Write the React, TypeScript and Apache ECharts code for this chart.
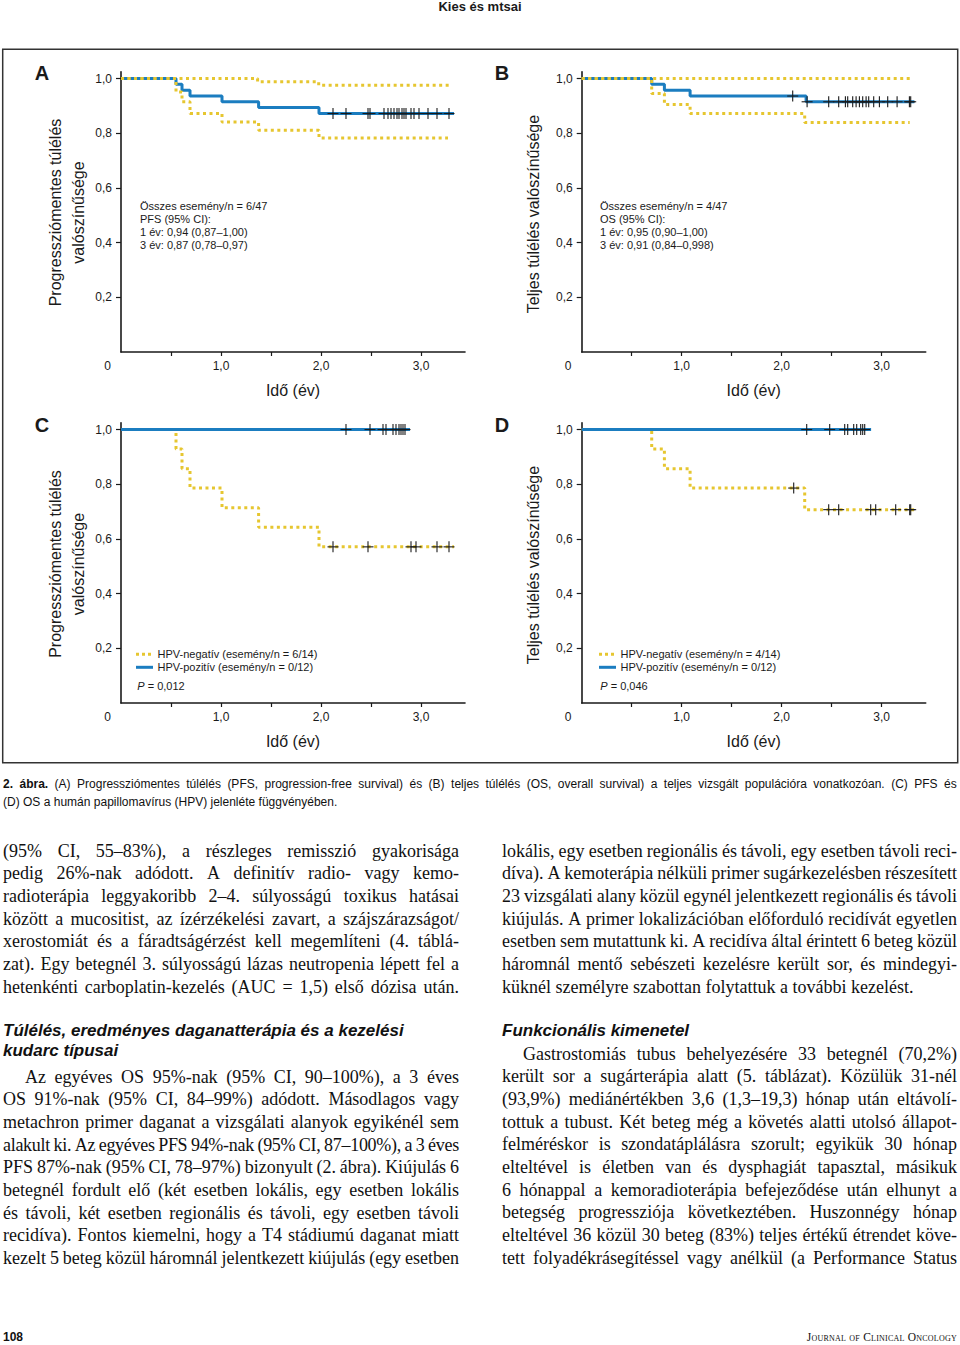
import React, { useEffect, useLayoutEffect, useRef } from 'react';
import * as echarts from 'echarts';

const FONT = "'Liberation Sans', Arial, Helvetica, sans-serif";
const SERIF = "'Liberation Serif', 'Times New Roman', serif";
const BLUE = '#1b7dc0';
const YELLOW = '#e6c630';
const INK = '#1a1a1a';

// ---- axis ticks / labels ----
const yTickValues = [0.2, 0.4, 0.6, 0.8, 1.0];
const xLabelValues = [0, 1, 2, 3];
const xTickValues = [0.5, 1, 1.5, 2, 2.5, 3];

// ---- A: PFS, whole population (time in years, survival probability) ----
const pfsAll = [[0, 1], [0.55, 0.979], [0.61, 0.957], [0.69, 0.936], [1.01, 0.915], [1.376, 0.894], [1.98, 0.872], [3.33, 0.872]];
const pfsAllUpper = [[0, 1], [1.366, 0.988], [1.977, 0.975], [3.3, 0.975]];
const pfsAllLower = [[0, 1], [0.55, 0.951], [0.61, 0.915], [0.69, 0.872], [1.01, 0.841], [1.376, 0.811], [1.98, 0.783], [3.27, 0.783]];
const pfsAllCensored = [2.12, 2.25, 2.47, 2.49, 2.63, 2.67, 2.7, 2.73, 2.76, 2.78, 2.81, 2.83, 2.85, 2.9, 2.93, 2.98, 3.07, 3.16, 3.28];

// ---- B: OS, whole population ----
const osAll = [[0, 1], [0.7, 0.979], [0.827, 0.957], [1.084, 0.936], [2.244, 0.915], [3.327, 0.915]];
const osAllUpper = [[0, 1], [3.28, 1]];
const osAllLower = [[0, 1], [0.7, 0.945], [0.827, 0.905], [1.084, 0.872], [2.23, 0.839], [3.28, 0.839]];
const osAllCensored = [2.11, 2.254, 2.47, 2.57, 2.637, 2.66, 2.71, 2.744, 2.777, 2.81, 2.844, 2.87, 2.92, 2.977, 3.06, 3.154, 3.277, 3.29];

// ---- C: PFS by HPV ----
const pfsHpvPos = [[0, 1], [2.89, 1]];
const pfsHpvPosCensored = [2.25, 2.49, 2.62, 2.65, 2.72, 2.75, 2.78, 2.8, 2.82, 2.84];
const pfsHpvNeg = [[0, 1], [0.55, 0.929], [0.61, 0.857], [0.69, 0.786], [1.01, 0.714], [1.376, 0.643], [1.98, 0.571], [3.33, 0.571]];
const pfsHpvNegCensored = [2.12, 2.47, 2.9, 2.95, 3.16, 3.28];

// ---- D: OS by HPV ----
const osHpvPos = [[0, 1], [2.894, 1]];
const osHpvPosCensored = [2.25, 2.48, 2.63, 2.66, 2.72, 2.75, 2.79, 2.81, 2.83];
const osHpvNeg = [[0, 1], [0.7, 0.929], [0.827, 0.857], [1.084, 0.786], [2.23, 0.707], [3.327, 0.707]];
const osHpvNegCensored = [2.12, 2.47, 2.57, 2.89, 2.94, 3.14, 3.28, 3.29];

// ---- texts ----
const annotA = ['Összes esemény/n = 6/47', 'PFS (95% CI):', '1 év: 0,94 (0,87–1,00)', '3 év: 0,87 (0,78–0,97)'];
const annotB = ['Összes esemény/n = 4/47', 'OS (95% CI):', '1 év: 0,95 (0,90–1,00)', '3 év: 0,91 (0,84–0,998)'];
const legendC = ['HPV-negatív (esemény/n = 6/14)', 'HPV-pozitív (esemény/n = 0/12)', '0,012'];
const legendD = ['HPV-negatív (esemény/n = 4/14)', 'HPV-pozitív (esemény/n = 0/12)', '0,046'];
const titlePFS = 'Progressziómentes túlélés\nvalószínűsége';
const titleOS = 'Teljes túlélés valószínűsége';
const xTitle = 'Idő (év)';

const caption1 = '2. ábra. (A) Progressziómentes túlélés (PFS, progression-free survival) és (B) teljes túlélés (OS, overall survival) a teljes vizsgált populációra vonatkozóan. (C) PFS és';
const caption2 = '(D) OS a humán papillomavírus (HPV) jelenléte függvényében.';

const leftPara1 = [
  '(95% CI, 55–83%), a részleges remisszió gyakorisága',
  'pedig 26%-nak adódott. A definitív radio- vagy kemo-',
  'radioterápia leggyakoribb 2–4. súlyosságú toxikus hatásai',
  'között a mucositist, az ízérzékelési zavart, a szájszárazságot/',
  'xerostomiát és a fáradtságérzést kell megemlíteni (4. táblá-',
  'zat). Egy betegnél 3. súlyosságú lázas neutropenia lépett fel a',
  'hetenkénti carboplatin-kezelés (AUC = 1,5) első dózisa után.',
];
const leftHeading = ['Túlélés, eredményes daganatterápia és a kezelési', 'kudarc típusai'];
const leftPara2 = [
  'Az egyéves OS 95%-nak (95% CI, 90–100%), a 3 éves',
  'OS 91%-nak (95% CI, 84–99%) adódott. Másodlagos vagy',
  'metachron primer daganat a vizsgálati alanyok egyikénél sem',
  'alakult ki. Az egyéves PFS 94%-nak (95% CI, 87–100%), a 3 éves',
  'PFS 87%-nak (95% CI, 78–97%) bizonyult (2. ábra). Kiújulás 6',
  'betegnél fordult elő (két esetben lokális, egy esetben lokális',
  'és távoli, két esetben regionális és távoli, egy esetben távoli',
  'recidíva). Fontos kiemelni, hogy a T4 stádiumú daganat miatt',
  'kezelt 5 beteg közül háromnál jelentkezett kiújulás (egy esetben',
];
const rightPara1 = [
  'lokális, egy esetben regionális és távoli, egy esetben távoli reci-',
  'díva). A kemoterápia nélküli primer sugárkezelésben részesített',
  '23 vizsgálati alany közül egynél jelentkezett regionális és távoli',
  'kiújulás. A primer lokalizációban előforduló recidívát egyetlen',
  'esetben sem mutattunk ki. A recidíva által érintett 6 beteg közül',
  'háromnál mentő sebészeti kezelésre került sor, és mindegyi-',
  'küknél személyre szabottan folytattuk a további kezelést.',
];
const rightHeading = 'Funkcionális kimenetel';
const rightPara2 = [
  'Gastrostomiás tubus behelyezésére 33 betegnél (70,2%)',
  'került sor a sugárterápia alatt (5. táblázat). Közülük 31-nél',
  '(93,9%) mediánértékben 3,6 (1,3–19,3) hónap után eltávolí-',
  'tottuk a tubust. Két beteg még a követés alatti utolsó állapot-',
  'felméréskor is szondatáplálásra szorult; egyikük 30 hónap',
  'elteltével is életben van és dysphagiát tapasztal, másikuk',
  '6 hónappal a kemoradioterápia befejeződése után elhunyt a',
  'betegség progressziója következtében. Huszonnégy hónap',
  'elteltével 36 közül 30 beteg (83%) teljes értékű étrendet köve-',
  'tett folyadékrásegítéssel vagy anélkül (a Performance Status',
];

const fmt = (v: number) => v.toFixed(1).replace('.', ',');

function survAt(curve: number[][], t: number) {
  let s = curve[0][1];
  for (const [x, y] of curve) {
    if (x <= t) s = y;
    else break;
  }
  return s;
}

const GRID_W = 344;
const GRID_H = 280.3;
const grids = [
  { left: 121, top: 71.7 },
  { left: 581.7, top: 71.7 },
  { left: 121, top: 422.7 },
  { left: 581.7, top: 422.7 },
];

function lineSeries(i: number, data: number[][], kind: 'blue' | 'yellow', z: number) {
  return {
    type: 'line',
    xAxisIndex: i,
    yAxisIndex: i,
    data,
    step: 'end',
    symbol: 'none',
    silent: true,
    clip: false,
    z,
    lineStyle:
      kind === 'blue'
        ? { color: BLUE, width: 3 }
        : { color: YELLOW, width: 3, type: [3, 3.5], cap: 'butt' },
  };
}

function censorSeries(i: number, curve: number[][], times: number[]) {
  return {
    type: 'custom',
    xAxisIndex: i,
    yAxisIndex: i,
    silent: true,
    z: 6,
    data: times.map((t) => [t, survAt(curve, t)]),
    renderItem: (_p: any, api: any) => {
      const p = api.coord([api.value(0), api.value(1)]);
      return {
        type: 'group',
        children: [
          { type: 'line', shape: { x1: p[0] - 5.5, y1: p[1], x2: p[0] + 5.5, y2: p[1] }, style: { stroke: INK, lineWidth: 1.1 } },
          { type: 'line', shape: { x1: p[0], y1: p[1] - 5.5, x2: p[0], y2: p[1] + 5.5 }, style: { stroke: INK, lineWidth: 1.1 } },
        ],
      };
    },
  };
}

function txt(text: string, x: number, y: number, size: number, extra: any = {}) {
  return {
    type: 'text',
    x,
    y,
    silent: true,
    style: {
      text,
      fill: INK,
      fontSize: size,
      fontFamily: FONT,
      align: 'left',
      verticalAlign: 'middle',
      ...extra,
    },
  };
}

function buildOption() {
  const xAxis = grids.map((_, i) => ({
    gridIndex: i,
    type: 'value',
    min: 0,
    max: 3.44,
    axisLine: { show: true, onZero: false, lineStyle: { color: INK, width: 1.6 } },
    axisTick: { show: true, customValues: xTickValues, length: 4, lineStyle: { color: INK, width: 1.2 } },
    axisLabel: {
      customValues: xLabelValues,
      formatter: (v: number) => (v === 0 ? '{z|0}' : fmt(v)),
      margin: 8,
      color: INK,
      fontSize: 12,
      fontFamily: FONT,
      rich: { z: { padding: [0, 27, 0, 0], fontSize: 12, fontFamily: FONT, color: INK } },
    },
    splitLine: { show: false },
    name: xTitle,
    nameLocation: 'middle',
    nameGap: 30,
    nameTextStyle: { fontSize: 16, fontFamily: FONT, color: INK },
  }));
  const yAxis = grids.map((_, i) => ({
    gridIndex: i,
    type: 'value',
    min: 0,
    max: 1.025,
    axisLine: { show: true, onZero: false, lineStyle: { color: INK, width: 1.6 } },
    axisTick: { show: true, customValues: yTickValues, length: 5, lineStyle: { color: INK, width: 1.2 } },
    axisLabel: {
      customValues: yTickValues,
      formatter: (v: number) => fmt(v),
      margin: 9,
      color: INK,
      fontSize: 12,
      fontFamily: FONT,
    },
    splitLine: { show: false },
  }));

  const series: any[] = [
    // A
    lineSeries(0, pfsAll, 'blue', 2),
    lineSeries(0, pfsAllUpper, 'yellow', 3),
    lineSeries(0, pfsAllLower, 'yellow', 3),
    censorSeries(0, pfsAll, pfsAllCensored),
    // B
    lineSeries(1, osAll, 'blue', 2),
    lineSeries(1, osAllUpper, 'yellow', 3),
    lineSeries(1, osAllLower, 'yellow', 3),
    censorSeries(1, osAll, osAllCensored),
    // C
    lineSeries(2, pfsHpvNeg, 'yellow', 2),
    lineSeries(2, pfsHpvPos, 'blue', 3),
    censorSeries(2, pfsHpvNeg, pfsHpvNegCensored),
    censorSeries(2, pfsHpvPos, pfsHpvPosCensored),
    // D
    lineSeries(3, osHpvNeg, 'yellow', 2),
    lineSeries(3, osHpvPos, 'blue', 3),
    censorSeries(3, osHpvNeg, osHpvNegCensored),
    censorSeries(3, osHpvPos, osHpvPosCensored),
  ];

  const graphic: any[] = [
    { type: 'rect', silent: true, shape: { x: 2.7, y: 49.3, width: 955, height: 713.4 }, style: { fill: 'none', stroke: '#333', lineWidth: 1.5 } },
    txt('Kies és mtsai', 480, 6, 13, { fontWeight: 'bold', align: 'center' }),
    txt('A', 42, 73, 20, { fontWeight: 'bold', align: 'center' }),
    txt('B', 502, 73, 20, { fontWeight: 'bold', align: 'center' }),
    txt('C', 42, 425, 20, { fontWeight: 'bold', align: 'center' }),
    txt('D', 502, 425, 20, { fontWeight: 'bold', align: 'center' }),
    { ...txt(titlePFS, 66.5, 212.5, 16, { align: 'center', lineHeight: 23 }), rotation: Math.PI / 2 },
    { ...txt(titleOS, 533, 214, 16, { align: 'center' }), rotation: Math.PI / 2 },
    { ...txt(titlePFS, 66.5, 564, 16, { align: 'center', lineHeight: 23 }), rotation: Math.PI / 2 },
    { ...txt(titleOS, 533, 565, 16, { align: 'center' }), rotation: Math.PI / 2 },
  ];
  annotA.forEach((s, k) => graphic.push(txt(s, 140, 205.7 + k * 13, 11)));
  annotB.forEach((s, k) => graphic.push(txt(s, 600, 205.7 + k * 13, 11)));

  const legend = (lx: number, items: string[]) => {
    graphic.push({ type: 'line', silent: true, shape: { x1: lx, y1: 654.3, x2: lx + 17, y2: 654.3 }, style: { stroke: YELLOW, lineWidth: 3, lineDash: [3, 3] } });
    graphic.push(txt(items[0], lx + 21.5, 654.3, 11));
    graphic.push({ type: 'line', silent: true, shape: { x1: lx, y1: 667.3, x2: lx + 17, y2: 667.3 }, style: { stroke: BLUE, lineWidth: 3 } });
    graphic.push(txt(items[1], lx + 21.5, 667.3, 11));
    graphic.push(txt('{i|P} = ' + items[2], lx + 1.3, 686, 11, { rich: { i: { fontStyle: 'italic', fontSize: 11, fontFamily: FONT, fill: INK } } }));
  };
  legend(136, legendC);
  legend(599, legendD);

  return {
    animation: false,
    backgroundColor: '#ffffff',
    grid: grids.map((g) => ({ left: g.left, top: g.top, width: GRID_W, height: GRID_H, containLabel: false })),
    xAxis,
    yAxis,
    series,
    graphic,
  };
}

type LineProps = {
  text: string;
  x: number;
  y: number;
  w: number;
  justify?: boolean;
  indent?: number;
  size: number;
  family: string;
  lh: number;
  bold?: number;
  extra?: any;
};

function TextLine({ text, x, y, w, justify = true, indent = 0, size, family, lh, bold = 0, extra = {} }: LineProps) {
  const elRef = useRef<HTMLDivElement>(null);
  useLayoutEffect(() => {
    const el = elRef.current;
    if (!el || !justify) return;
    // tighten letter spacing a little if words do not fit with a minimum gap
    let ls = 0;
    for (let k = 0; k < 12; k++) {
      const spans = Array.from(el.children) as HTMLElement[];
      const total = spans.reduce((s, sp) => s + sp.getBoundingClientRect().width, 0);
      const minGap = size * 0.2 * (spans.length - 1);
      if (total + minGap <= w - indent) break;
      ls -= 0.05;
      el.style.letterSpacing = ls + 'px';
    }
  }, []);
  const base: any = {
    position: 'absolute',
    left: x + indent,
    top: y,
    width: w - indent,
    height: lh,
    lineHeight: lh + 'px',
    fontSize: size,
    fontFamily: family,
    color: '#111',
    whiteSpace: 'nowrap',
    ...extra,
  };
  const words = text.split(' ');
  if (!justify) {
    return (
      <div style={base}>
        {words.map((wd, i) => (
          <span key={i} style={{ fontWeight: i < bold ? 'bold' : undefined }}>
            {wd}
            {i < words.length - 1 ? ' ' : ''}
          </span>
        ))}
      </div>
    );
  }
  return (
    <div ref={elRef} style={{ ...base, display: 'flex', justifyContent: 'space-between', columnGap: '0.12em' }}>
      {words.map((wd, i) => (
        <span key={i} style={{ fontWeight: i < bold ? 'bold' : undefined, flex: 'none' }}>
          {wd}
        </span>
      ))}
    </div>
  );
}

const BODY_LH = 22.67;
const BODY_SIZE = 18;

export default function App() {
  const ref = useRef<HTMLDivElement>(null);
  useEffect(() => {
    if (!ref.current) return;
    const chart = echarts.init(ref.current, undefined, { renderer: 'svg' });
    chart.setOption(buildOption() as any);
    return () => chart.dispose();
  }, []);

  const body = (lines: string[], x: number, w: number, y0: number, opts: { indentFirst?: number; lastLeft?: boolean } = {}) =>
    lines.map((l, i) => (
      <TextLine
        key={x + '-' + y0 + '-' + i}
        text={l}
        x={x}
        y={y0 + i * BODY_LH - 11.5}
        w={w}
        indent={i === 0 ? opts.indentFirst || 0 : 0}
        justify={!(opts.lastLeft && i === lines.length - 1)}
        size={BODY_SIZE}
        family={SERIF}
        lh={BODY_LH}
      />
    ));

  const headingStyle: any = {
    position: 'absolute',
    fontFamily: FONT,
    fontWeight: 'bold',
    fontStyle: 'italic',
    fontSize: 17,
    lineHeight: '20px',
    color: '#111',
    whiteSpace: 'nowrap',
  };

  return (
    <div style={{ position: 'absolute', left: 0, top: 0, width: 960, height: 1345, background: '#fff', overflow: 'hidden' }}>
      <div ref={ref} style={{ position: 'absolute', left: 0, top: 0, width: 960, height: 770 }} />
      <TextLine text={caption1} x={3} y={784 - 9} w={954} size={12} family={FONT} lh={18} bold={2} />
      <TextLine text={caption2} x={3} y={802 - 9} w={954} size={12} family={FONT} lh={18} justify={false} />
      {body(leftPara1, 3, 456, 851)}
      <div style={{ ...headingStyle, left: 3, top: 1031 - 10 }}>{leftHeading[0]}</div>
      <div style={{ ...headingStyle, left: 3, top: 1051 - 10 }}>{leftHeading[1]}</div>
      {body(leftPara2, 3, 456, 1077, { indentFirst: 22 })}
      {body(rightPara1, 502, 455, 851, { lastLeft: true })}
      <div style={{ ...headingStyle, left: 502, top: 1031 - 10 }}>{rightHeading}</div>
      {body(rightPara2, 502, 455, 1054, { indentFirst: 21 })}
      <div style={{ position: 'absolute', left: 3, top: 1337 - 9, lineHeight: '18px', fontFamily: FONT, fontWeight: 'bold', fontSize: 12, color: '#111' }}>108</div>
      <div style={{ position: 'absolute', right: 3, top: 1337 - 9, lineHeight: '18px', fontFamily: SERIF, fontVariant: 'small-caps', fontSize: 11.5, color: '#111', letterSpacing: '0.02em' }}>
        Journal of Clinical Oncology
      </div>
    </div>
  );
}
